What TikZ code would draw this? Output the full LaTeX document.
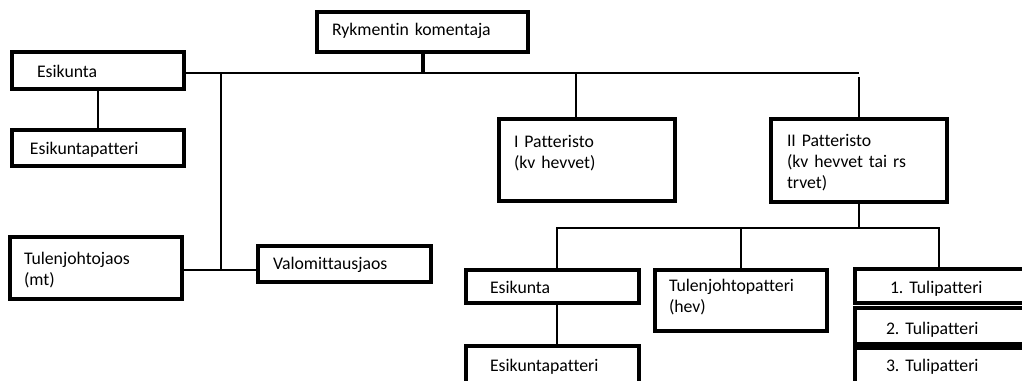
\documentclass[tikz,border=0pt]{standalone}
\usepackage{fontspec}
\setmainfont{Carlito}[Ligatures=NoCommon]
\frenchspacing
\tikzset{
  px/.style={x=0.75pt,y=-0.75pt},
  box/.style={draw, line width=2.3pt, anchor=north west, outer sep=0pt,
    inner ysep=0pt, align=left, font=\fontsize{13.3pt}{16.1pt}\selectfont},
  link/.style={line width=1.5pt},
  stem/.style={line width=3pt},
}
\begin{document}
\begin{tikzpicture}[px]
    %% NOTE: draw diagram
    \useasboundingbox (0,0) rectangle (1022,380);
    \clip (0,0) rectangle (1022,380);
    %% regiment level
    \node[box, inner xsep=11.25pt, text width=135.75pt, text height=17.25pt, text depth=12.75pt] (rk) at (317,12) {Rykmentin komentaja};
    \node[box, inner xsep=18.75pt, text width=91.5pt, text height=18.75pt, text depth=9pt] (eskL) at (12,52) {Esikunta};
    \node[box, inner xsep=13.5pt, text width=102pt, text height=18pt, text depth=9pt] (ekpL) at (12,130) {Esikuntapatteri};
    \node[box, inner xsep=10.5pt, text width=108pt, text height=20.25pt, text depth=26.25pt] (tj) at (10,237) {Tulenjohtojaos\\(mt)};
    \node[box, inner xsep=11.25pt, text width=107.25pt, text height=17.25pt, text depth=9.75pt] (vm) at (258,246) {Valomittausjaos};
    \node[box, inner xsep=11.25pt, text width=109.5pt, text height=21pt, text depth=40.5pt] (ip) at (499,119) {I Patteristo\\(kv hevvet)};
    \node[box, inner xsep=12pt, text width=108pt, text height=20.25pt, text depth=42pt] (iip) at (771,119) {II Patteristo\\(kv hevvet tai rs\\trvet)};
    %% battalion level
    \node[box, inner xsep=18pt, text width=93.75pt, text height=17.25pt, text depth=7.5pt] (esk2) at (466,270) {Esikunta};
    \node[box, inner xsep=18pt, text width=93.75pt, text height=18.75pt, text depth=26.25pt] (ekp2) at (466,346) {Esikuntapatteri};
    \node[box, inner xsep=10.5pt, text width=108pt, text height=15.75pt, text depth=30pt] (tjp) at (655,270) {Tulenjohtopatteri\\(hev)};
    \node[box, inner xsep=26.25pt, text width=97.5pt, text height=18pt, text depth=7.5pt] (tp1) at (855,269) {1. Tulipatteri};
    \node[box, inner xsep=23.25pt, text width=103.5pt, text height=19.5pt, text depth=7.5pt] (tp2) at (855,308) {2. Tulipatteri};
    \node[box, inner xsep=23.25pt, text width=103.5pt, text height=17.25pt, text depth=27.75pt] (tp3) at (855,348) {3. Tulipatteri};
    %% upper connectors
    \coordinate (barL) at (185,73);
    \coordinate (barR) at (859,73);
    \coordinate (tjBar) at (221,270);
    \draw[stem] (rk.south) -- (rk.south |- barL);
    \draw[link] (eskL.east |- barL) -- (barR);
    \draw[link] (eskL.south) -- (ekpL.north);
    \draw[link] (tjBar |- barL) -- (tjBar);
    \draw[link] (tj.east |- tjBar) -- (vm.west |- tjBar);
    \draw[link] (576,0 |- barL) -- (576,0 |- ip.north);
    \draw[link] (iip.north) -- (iip.north |- 0,77);
    %% lower connectors
    \coordinate (lowL) at (557,228);
    \coordinate (lowR) at (939,228);
    \draw[link] (iip.south) -- (iip.south |- lowL);
    \draw[link] (esk2.north -| lowL) -- (lowL) -- (lowR) -- (tp1.north -| lowR);
    \draw[link] (tjp.north) -- (tjp.north |- lowL);
    \draw[link] (esk2.south -| lowL) -- (ekp2.north -| lowL);
\end{tikzpicture}
\end{document}
